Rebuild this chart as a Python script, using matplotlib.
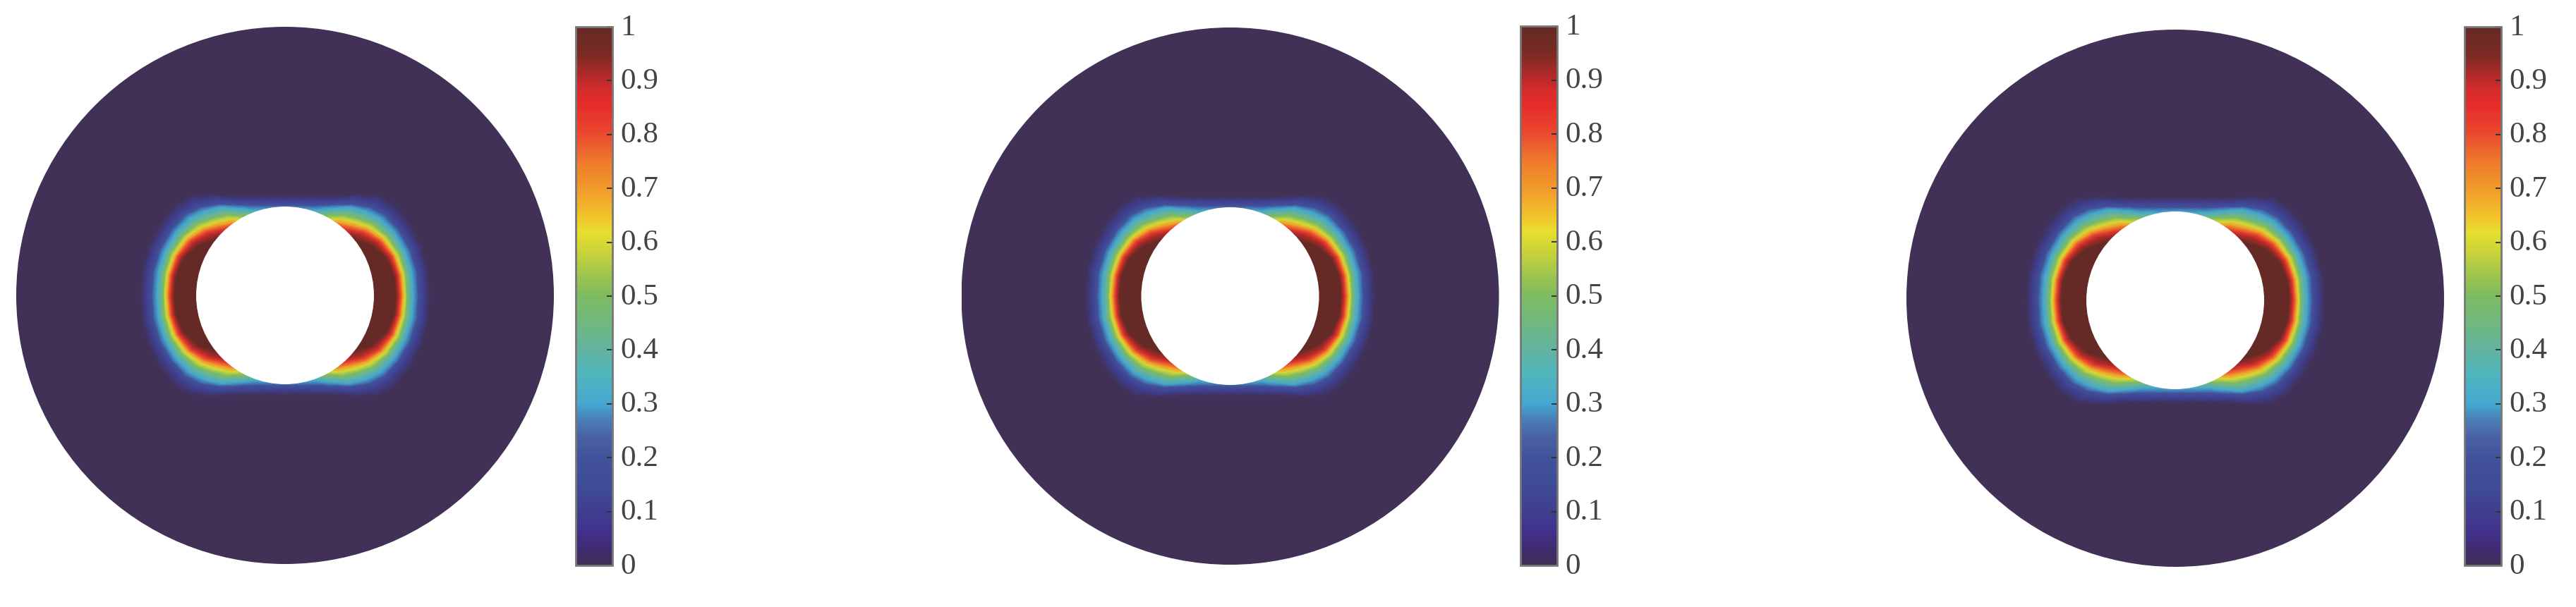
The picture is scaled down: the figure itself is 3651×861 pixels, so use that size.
import matplotlib
matplotlib.use("Agg")
import matplotlib.pyplot as plt
import numpy as np
from matplotlib.cm import ScalarMappable
from matplotlib.colors import LinearSegmentedColormap, Normalize
from matplotlib.patches import Circle
from matplotlib.transforms import ScaledTranslation

plt.rcParams['font.family'] = ['Liberation Serif', 'DejaVu Serif']

W, H = 3651, 862

# colour bar
cmap_values = [0, .03, .06, .1, .15, .2, .24, .27, .3, .35, .4, .45, .5, .55, .58, .62,
               .65, .7, .75, .8, .85, .88, .91, .95, 1]
cmap_colors = ['#413157', '#3f2a70', '#40308a', '#3f3f8f', '#3f4c96', '#41529a', '#4a62a5',
               '#4a7fb5', '#45a8d0', '#4fb5c0', '#62b3a0', '#70b880', '#7dbb62', '#a8c848',
               '#c8d23a', '#e8df2e', '#f2c02b', '#f09a2b', '#ef7a2d', '#ea4a2e', '#e62e2b',
               '#d92b2b', '#b02a28', '#7a2a25', '#652a25']

tick_values = [0, .1, .2, .3, .4, .5, .6, .7, .8, .9, 1]
tick_labels = ['0', '0.1', '0.2', '0.3', '0.4', '0.5', '0.6', '0.7', '0.8', '0.9', '1']

# field: radius (px) of each contour level, per angle in one quadrant
field_angles = [0, 10, 20, 30, 39, 46, 54, 62, 70, 80, 90]
field_levels = [1, .9, .8, .7, .6, .5, .4, .3, .2, .1, 0]
field_radii = [
    [157, 161, 164, 167, 170, 173, 177, 182, 189, 197, 206],
    [157, 161, 164, 167, 170, 174, 178, 183, 190, 198, 207],
    [153, 158, 162, 165, 168, 173, 177, 182, 189, 197, 207],
    [142, 150, 155, 159, 163, 168, 173, 179, 186, 194, 206],
    [126, 138, 144, 149, 154, 161, 167, 174, 182, 191, 204],
    [116, 126, 132, 138, 144, 151, 158, 166, 174, 184, 197],
    [110, 116, 122, 128, 134, 141, 148, 155, 160, 170, 178],
    [105, 110, 114, 118, 122, 128, 134, 140, 146, 153, 161],
    [103, 107, 110, 113, 116, 120, 124, 129, 136, 144, 151],
    [101, 105, 108, 110, 112, 115, 119, 123, 130, 137, 144],
    [100, 104, 107, 109, 111, 114, 118, 122, 128, 135, 142],
]
panel_scale = [1.0, 1.0, 1.03]

# layout in pixels
disk_x = [404, 1743.5, 3083]
disk_y = [420, 421, 424]
hole_y = [420, 421, 427]
disk_r = 381
hole_r = 126
bar_x = [816, 2155, 3493]
bar_w = 52
bar_top = [39, 38, 39]
bar_bottom = 803


def px_axes(fig, x0, y0, w, h):
    return fig.add_axes([x0 / W, 1 - (y0 + h) / H, w / W, h / H])


def full_field(scale):
    # mirror the quadrant to a whole turn
    a = np.array(field_angles, dtype=float)
    r = np.array(field_radii, dtype=float) * scale
    r = np.column_stack([np.full(len(a), 90.0), r])
    a_all = np.concatenate([a, 180 - a[-2::-1], 180 + a[1:], 360 - a[-2::-1]])
    r_all = np.vstack([r, r[-2::-1], r[1:], r[-2::-1]])
    t = np.radians(a_all)[:, None]
    X = r_all * np.cos(t)
    Y = r_all * np.sin(t)
    C = np.tile([1] + field_levels, (len(a_all), 1))
    return X, Y, C


def main():
    cmap = LinearSegmentedColormap.from_list('field', list(zip(cmap_values, cmap_colors)), N=512)
    norm = Normalize(0, 1)
    fig = plt.figure(figsize=(W / 100, H / 100), dpi=100, facecolor='white')

    for i in range(3):
        ax = px_axes(fig, disk_x[i] - disk_r, disk_y[i] - disk_r, 2 * disk_r, 2 * disk_r)
        ax.set_xlim(-disk_r, disk_r)
        ax.set_ylim(-disk_r, disk_r)
        ax.axis('off')
        ax.add_patch(Circle((0, 0), disk_r, fc=cmap_colors[0], ec='none', zorder=1))
        dy = disk_y[i] - hole_y[i]
        X, Y, C = full_field(panel_scale[i])
        ax.pcolormesh(X, Y + dy, C, cmap=cmap, norm=norm, shading='gouraud', zorder=2)
        ax.add_patch(Circle((0, dy), hole_r, fc='white', ec='none', zorder=3))

        cax = px_axes(fig, bar_x[i], bar_top[i], bar_w, bar_bottom - bar_top[i])
        cb = fig.colorbar(ScalarMappable(norm=norm, cmap=cmap), cax=cax, ticks=tick_values)
        cb.ax.set_yticklabels(tick_labels)
        cb.ax.tick_params(direction='in', length=6, width=1.4, color='#333333', pad=8,
                          labelsize=31, labelcolor='#444444')
        cb.outline.set_edgecolor('#777777')
        cb.outline.set_linewidth(2)
        shift = ScaledTranslation(0, 3 / 72, fig.dpi_scale_trans)
        for lab in cb.ax.get_yticklabels():
            lab.set_transform(lab.get_transform() + shift)

    fig.savefig('out.png', dpi=100)


if __name__ == "__main__":
    main()
